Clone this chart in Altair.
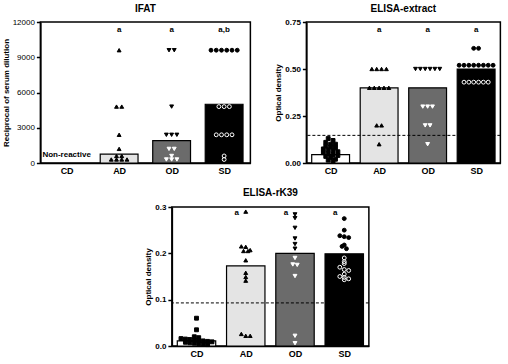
import math
import altair as alt
import pandas as pd

GROUPS = ["CD", "AD", "OD", "SD"]
SHAPES = {"CD": "square", "AD": "triangle-up", "OD": "triangle-down", "SD": "circle"}
BAR_FILL = {"CD": "white", "AD": "#e4e4e4", "OD": "#6b6b6b", "SD": "black"}
DARK = {"OD", "SD"}

# ---- IFAT (reciprocal titres) ----
ifat_values = {
    "CD": [],
    "AD": [9600, 4800, 4800, 2400, 1200, 600, 600, 300, 300, 300, 300],
    "OD": [9600, 9600, 4800, 2400, 2400, 2400, 1200, 1200, 600, 300, 300, 300],
    "SD": [9600, 9600, 9600, 9600, 9600, 9600, 4800, 4800, 4800,
           2400, 2400, 2400, 2400, 600, 300],
}
ifat_bars = {"AD": 750, "OD": 1900, "SD": 5000}
ifat_letters = {"AD": "a", "OD": "a", "SD": "a,b"}
ifat_letter_y = 11300

# ---- ELISA with crude extract ----
extract_values = {
    "CD": [0.13, 0.12, 0.11, 0.10, 0.10, 0.09, 0.085, 0.08, 0.075, 0.07, 0.065,
           0.06, 0.055, 0.05, 0.045, 0.04, 0.035, 0.03, 0.02, 0.015, 0.01],
    "AD": [0.50, 0.50, 0.50, 0.50, 0.40, 0.40, 0.40, 0.40, 0.40, 0.20, 0.20, 0.10],
    "OD": [0.50, 0.50, 0.50, 0.50, 0.50, 0.50, 0.30, 0.30, 0.30, 0.20, 0.20, 0.10],
    "SD": [0.61, 0.61, 0.52, 0.52, 0.52, 0.52, 0.52, 0.52, 0.52, 0.52,
           0.43, 0.43, 0.43, 0.43, 0.43, 0.43],
}
extract_bars = {"CD": 0.045, "AD": 0.40, "OD": 0.40, "SD": 0.50}
extract_letters = {"AD": "a", "OD": "a", "SD": "a"}
extract_letter_y = 0.705
extract_cutoff = 0.147

# ---- ELISA with rK39 antigen ----
rk39_values = {
    "CD": [0.06, 0.035, 0.02, 0.018, 0.016, 0.015, 0.014, 0.013, 0.012, 0.011,
           0.010, 0.009, 0.008, 0.007, 0.006, 0.005, 0.004, 0.003],
    "AD": [0.29, 0.215, 0.214, 0.207, 0.205, 0.205, 0.185, 0.158, 0.149, 0.141,
           0.026, 0.022, 0.022],
    "OD": [0.284, 0.276, 0.255, 0.232, 0.22, 0.21, 0.19, 0.176, 0.175, 0.151,
           0.022, 0.006],
    "SD": [0.275, 0.25, 0.238, 0.236, 0.234, 0.218, 0.215, 0.21, 0.19, 0.182,
           0.178, 0.17, 0.165, 0.163, 0.155, 0.15, 0.148, 0.145, 0.143],
}
rk39_bars = {"CD": 0.011, "AD": 0.173, "OD": 0.20, "SD": 0.199}
rk39_letters = {"AD": "a", "OD": "a", "SD": "a"}
rk39_letter_y = 0.287
rk39_cutoff = 0.093


def swarm(values, bars, tol, step):
    """Spread points of similar value side by side within each group."""
    rows = []
    for gi, g in enumerate(GROUPS):
        bins = {}
        for v in sorted(values[g], reverse=True):
            bins.setdefault(math.floor(v / tol), []).append(v)
        for members in bins.values():
            n = len(members)
            for i, v in enumerate(members):
                inside = g in DARK and v < bars.get(g, 0)
                if inside and g == "SD":
                    fill, stroke = "transparent", "white"
                elif inside:
                    fill, stroke = "white", "white"
                else:
                    fill, stroke = "black", "black"
                rows.append({"group": g, "pos": gi + (i - (n - 1) / 2) * step,
                             "val": v, "shape": SHAPES[g],
                             "fill": fill, "stroke": stroke})
    return pd.DataFrame(rows)


def bar_frame(bars):
    return pd.DataFrame([{"group": g, "pos": GROUPS.index(g), "val": v,
                          "fill": BAR_FILL[g]} for g, v in bars.items()])


def letter_frame(letters, y):
    return pd.DataFrame([{"pos": GROUPS.index(g), "val": y, "label": t}
                         for g, t in letters.items()])


def panel(title, pts, bars, letters, ymax, yticks, fmt, ytitle, w, h,
          half, cutoff=None, letter_dx=0, extra=None, title_offset=4,
          label_weight="bold"):
    x_scale = alt.Scale(domain=[-0.5, 3.5], nice=False, zero=False)
    x_axis = alt.Axis(values=[0, 1, 2, 3],
                      labelExpr="['CD','AD','OD','SD'][datum.value]",
                      ticks=False, grid=False, title=None,
                      labelFontSize=9, labelFontWeight="bold", labelPadding=3)
    x_enc = alt.X("pos:Q", scale=x_scale, axis=x_axis)
    y_enc = alt.Y("val:Q", scale=alt.Scale(domain=[0, ymax], nice=False),
                  axis=alt.Axis(values=yticks, format=fmt, grid=False,
                                title=ytitle, titleFontSize=8,
                                titleFontWeight="bold", titlePadding=2,
                                labelFontSize=8, labelFontWeight=label_weight,
                                labelPadding=2))

    bar_layer = alt.Chart(bars).transform_calculate(
        x0=f"datum.pos - {half}", x1=f"datum.pos + {half}"
    ).mark_bar(stroke="black", strokeWidth=1.2).encode(
        x=alt.X("x0:Q", scale=x_scale, axis=x_axis),
        x2="x1:Q",
        y=y_enc,
        y2=alt.datum(0),
        fill=alt.Fill("fill:N", scale=None),
    )

    pt_layer = alt.Chart(pts).mark_point(size=15, strokeWidth=1, opacity=1,
                                         fillOpacity=1).encode(
        x=x_enc, y=y_enc,
        shape=alt.Shape("shape:N", scale=None),
        fill=alt.Fill("fill:N", scale=None),
        stroke=alt.Stroke("stroke:N", scale=None),
    )

    txt_layer = alt.Chart(letters).mark_text(
        fontSize=8, fontWeight="bold", font="Liberation Sans", fill="black",
        dx=letter_dx
    ).encode(x=x_enc, y=y_enc, text="label:N")

    layers = [bar_layer]
    if cutoff is not None:
        layers.append(alt.Chart(pd.DataFrame({"val": [cutoff]})).mark_rule(
            strokeDash=[3, 2], color="black", strokeWidth=1
        ).encode(y=y_enc))
    layers += [pt_layer, txt_layer]
    if extra is not None:
        layers.append(alt.Chart(extra).mark_text(
            fontSize=8, fontWeight="bold", font="Liberation Sans", fill="black"
        ).encode(x=x_enc, y=y_enc, text="label:N"))

    return alt.layer(*layers).properties(
        width=w, height=h,
        title=alt.TitleParams(title, fontSize=10, fontWeight="bold",
                              font="Liberation Sans", offset=title_offset),
    )


ifat_pts = swarm(ifat_values, ifat_bars, 240, 0.1)
extract_pts = swarm(extract_values, extract_bars, 0.02, 0.1)
rk39_pts = swarm(rk39_values, rk39_bars, 0.009, 0.09)

non_reactive = pd.DataFrame([{"pos": 0, "val": 650, "label": "Non-reactive"}])

p1 = panel("IFAT", ifat_pts, bar_frame(ifat_bars),
           letter_frame(ifat_letters, ifat_letter_y),
           12000, [0, 3000, 6000, 9000, 12000], "d",
           "Reciprocal of serum dilution", 210, 141, 0.36,
           extra=non_reactive, label_weight="normal")
p2 = panel("ELISA-extract", extract_pts, bar_frame(extract_bars),
           letter_frame(extract_letters, extract_letter_y),
           0.75, [0, 0.25, 0.5, 0.75], ".2f", "Optical density",
           194, 141, 0.39, cutoff=extract_cutoff)
p3 = panel("ELISA-rK39", rk39_pts, bar_frame(rk39_bars),
           letter_frame(rk39_letters, rk39_letter_y),
           0.3, [0, 0.1, 0.2, 0.3], ".1f", "Optical density",
           197, 139, 0.39, cutoff=rk39_cutoff, letter_dx=-9, title_offset=5)

chart = alt.vconcat(
    alt.hconcat(p1, p2, spacing=22),
    p3,
    spacing=11,
    center=True,
).properties(
    padding={"left": 1, "top": 3, "right": 4, "bottom": 1},
    background="white",
).configure_view(
    stroke="black", strokeWidth=1.5
).configure_axis(
    domainColor="black", domainWidth=1.5, tickColor="black", tickWidth=1.5,
    tickSize=4, labelColor="black", titleColor="black",
    labelFont="Liberation Sans", titleFont="Liberation Sans",
).configure_title(color="black")

chart.save("out.html", embed_options={"renderer": "svg", "actions": False})
